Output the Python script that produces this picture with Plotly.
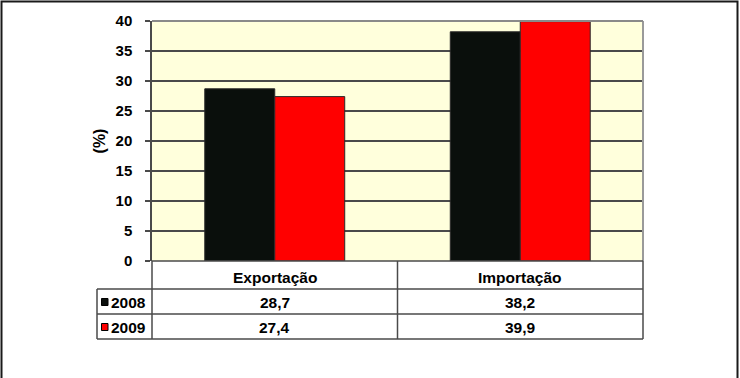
import plotly.graph_objects as go

categories = ["Exportação", "Importação"]
series_names = ["2008", "2009"]
values_2008 = [28.7, 38.2]
values_2009 = [27.4, 39.9]
series_colors = ["#0a0f0c", "#ff0000"]
y_ticks = [0, 5, 10, 15, 20, 25, 30, 35, 40]

W, H = 740, 378
L, R, T, B = 152, 643, 21, 261  # plot area in px

def px_x(p):
    return (p - L) / (R - L)

def px_y(p):
    return (B - p) / (B - T)

FAM = "Arial, Liberation Sans, sans-serif"
FONT = dict(family=FAM, size=15.5, color="#000000", weight="bold")
TICKFONT = dict(family=FAM, size=15, color="#000000", weight="bold")

fig = go.Figure()
series_values = [values_2008, values_2009]
for name, vals, col in zip(series_names, series_values, series_colors):
    fig.add_trace(go.Bar(
        x=categories, y=vals, name=name,
        marker=dict(color=col, line=dict(color="#2a2a2a", width=1)),
        showlegend=False,
    ))

shapes = []
line_col = "#4a4a4a"
# outer frame
shapes.append(dict(type="rect", xref="paper", yref="paper",
                   x0=px_x(1.5), x1=px_x(737.5), y0=px_y(1.5), y1=px_y(385),
                   line=dict(color="#1a1a1a", width=2), fillcolor="rgba(0,0,0,0)", layer="above"))
# plot area right & top border (gray)
shapes.append(dict(type="line", xref="paper", yref="paper", x0=1, x1=1, y0=0, y1=1,
                   line=dict(color="#9a9a9a", width=2)))
shapes.append(dict(type="line", xref="paper", yref="paper", x0=0, x1=1, y0=1, y1=1,
                   line=dict(color="#8a8a8a", width=2)))

# table lines
row_tops = [289, 314, 339]
for yy in row_tops:
    shapes.append(dict(type="line", xref="paper", yref="paper",
                       x0=px_x(97), x1=1, y0=px_y(yy), y1=px_y(yy),
                       line=dict(color=line_col, width=1.5)))
# bottom axis line
shapes.append(dict(type="line", xref="paper", yref="paper", x0=0, x1=1, y0=0, y1=0,
                   line=dict(color=line_col, width=1.5)))
# verticals
for xx, ytop in [(L, 261), (397.5, 261), (R, 261), (97, 289)]:
    shapes.append(dict(type="line", xref="paper", yref="paper",
                       x0=px_x(xx), x1=px_x(xx), y0=px_y(ytop), y1=px_y(339),
                       line=dict(color=line_col, width=1.5)))

annotations = []
# header row
for c in categories:
    annotations.append(dict(x=c, xref="x", y=px_y(277), yref="paper", text=c,
                            showarrow=False, font=FONT, xanchor="center", yanchor="middle"))
row_centers = [302, 327]
for name, vals, col, yc in zip(series_names, series_values, series_colors, row_centers):
    for c, v in zip(categories, vals):
        annotations.append(dict(x=c, xref="x", y=px_y(yc), yref="paper",
                                text=f"{v:.1f}".replace(".", ","),
                                showarrow=False, font=FONT, xanchor="center", yanchor="middle"))
    annotations.append(dict(x=px_x(108.5), xref="paper", y=px_y(yc), yref="paper", text=name,
                            showarrow=False, font=FONT, xanchor="left", yanchor="middle"))
    shapes.append(dict(type="rect", xref="paper", yref="paper",
                       x0=px_x(101.5), x1=px_x(108), y0=px_y(yc - 3.5), y1=px_y(yc + 3.5),
                       fillcolor=col, line=dict(color="#000000", width=1)))

fig.update_layout(
    width=W, height=H,
    margin=dict(l=L, r=W - R, t=T, b=H - B, pad=0),
    paper_bgcolor="#ffffff",
    plot_bgcolor="#ffffdc",
    barmode="group",
    bargap=0.43,
    bargroupgap=0,
    shapes=shapes,
    annotations=annotations,
    xaxis=dict(showticklabels=False, showgrid=False, zeroline=False, showline=False,
               ticks="", fixedrange=True),
    yaxis=dict(range=[0, 40], tickvals=y_ticks, ticks="outside", ticklen=5,
               tickcolor=line_col, tickwidth=1.5, ticklabelstandoff=10,
               showgrid=True, gridcolor=line_col, gridwidth=1.5,
               zeroline=False, showline=True, linecolor=line_col, linewidth=1.5,
               tickfont=TICKFONT,
               title=dict(text="(%)", font=dict(family=FAM, size=16,
                                                color="#000000", weight="bold"), standoff=6)),
)

fig.write_html("out.html", config={"displayModeBar": False},
               post_script="document.body.style.margin='0';")
